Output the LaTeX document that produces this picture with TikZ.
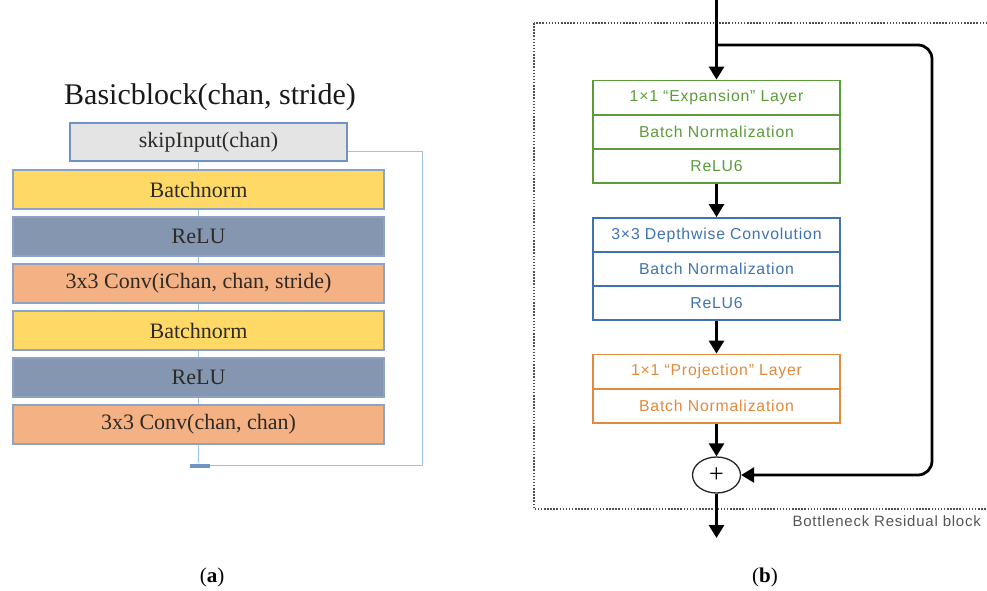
\documentclass[tikz,border=0pt]{standalone}
\usepackage{fontspec}
\setmainfont{Liberation Serif}
\newfontfamily\rsans[LetterSpace=5]{Liberation Sans}
\usetikzlibrary{arrows.meta,shapes.geometric}
\definecolor{lborder}{HTML}{8CA3C6}
\definecolor{lline}{HTML}{9DC3E6}
\definecolor{skipfill}{HTML}{E4E4E4}
\definecolor{skipborder}{HTML}{6F94C4}
\definecolor{bnfill}{HTML}{FED966}
\definecolor{relufill}{HTML}{8496B0}
\definecolor{convfill}{HTML}{F4B183}
\definecolor{ltext}{HTML}{2E2A26}
\definecolor{gcol}{HTML}{5B9B3A}
\definecolor{bcol}{HTML}{3E73B0}
\definecolor{ocol}{HTML}{E08A3C}
\definecolor{dotcol}{HTML}{505050}
\definecolor{captext}{HTML}{555555}
\tikzset{
  lbox/.style={draw=lborder, line width=1.2pt, minimum width=371pt, minimum height=39pt,
    inner sep=0pt, text=ltext, font=\fontsize{22}{26}\selectfont},
  lconn/.style={draw=lline, line width=0.8pt},
  rrow/.style={draw=#1, text=#1, line width=1.5pt, minimum width=247pt, minimum height=34.3pt,
    inner sep=0pt, font=\rsans\fontsize{15.8}{18}\selectfont},
  flow/.style={line width=2.8pt, -{Triangle[length=13pt,width=15pt]}},
}
\begin{document}
\begin{tikzpicture}[x=1pt,y=-1pt]
\useasboundingbox (0,0) rectangle (987,590);
\clip (0,0) rectangle (987,590);
% ---------- (a) ----------
\node[text=black!90, font=\fontsize{30}{34}\selectfont] (title) at (210,97) {Basicblock(chan, stride)};
\node[lbox, draw=skipborder, fill=skipfill, minimum width=277pt, minimum height=38pt] (skip) at (208.5,142) {skipInput(chan)};
\node[lbox, fill=bnfill] (bn1) at (198.5,189.5) {Batchnorm};
\node[lbox, fill=relufill] (relu1) at (198.5,236.5) {ReLU};
\node[lbox, fill=convfill] (conv1) at (198.5,283.5) {3x3 Conv(iChan, chan, stride)};
\node[lbox, fill=bnfill] (bn2) at (198.5,330.5) {Batchnorm};
\node[lbox, fill=relufill] (relu2) at (198.5,377.5) {ReLU};
\node[lbox, fill=convfill] (conv2) at (198.5,424.5) {3x3 Conv(chan, chan)};
\node[fill=skipborder, minimum width=20pt, minimum height=4pt, inner sep=0pt] (sum) at (200,465.5) {};
\coordinate (skipr) at (422,151);
\draw[lconn] (bn1.north) -- (bn1.north |- skip.south);
\draw[lconn] (bn1.south) -- (relu1.north);
\draw[lconn] (relu1.south) -- (conv1.north);
\draw[lconn] (conv1.south) -- (bn2.north);
\draw[lconn] (bn2.south) -- (relu2.north);
\draw[lconn] (relu2.south) -- (conv2.north);
\draw[lconn] (conv2.south) -- (conv2.south |- sum.north);
\draw[lconn] (skip.east |- skipr) -- (skipr) |- (sum.east);
\node[font=\fontsize{21}{24}\selectfont] (capa) at (212,577) {(\textbf{a})};
% ---------- (b) ----------
\draw[dotcol, line width=1.5pt, dash pattern=on 1.5pt off 1.6pt] (534,23) rectangle (1000,509);
\node[rrow=gcol] (g1) at (716.5,97.5) {1×1 “Expansion” Layer};
\node[rrow=gcol] (g2) at (716.5,132) {Batch Normalization};
\node[rrow=gcol] (g3) at (716.5,166) {ReLU6};
\node[rrow=bcol] (b1) at (716.5,235) {3×3 Depthwise Convolution};
\node[rrow=bcol] (b2) at (716.5,269) {Batch Normalization};
\node[rrow=bcol] (b3) at (716.5,303) {ReLU6};
\node[rrow=ocol] (o1) at (716.5,371.5) {1×1 “Projection” Layer};
\node[rrow=ocol] (o2) at (716.5,406) {Batch Normalization};
\node[draw=black!85, line width=1.3pt, ellipse, minimum width=48pt, minimum height=36pt, inner sep=0pt,
  font=\fontsize{26}{28}\selectfont] (plus) at (716.5,475) {+};
\coordinate (in) at (716.5,0);
\coordinate (split) at (716.5,45);
\coordinate (sr) at (932,45);
\coordinate (out) at (716.5,538);
\draw[flow] (in) -- (g1.north);
\draw[flow] (g3.south) -- (b1.north);
\draw[flow] (b3.south) -- (o1.north);
\draw[flow] (o2.south) -- (plus.north);
\draw[flow] (plus.south) -- (out);
\draw[flow, rounded corners=14pt] (split) -- (sr) |- (plus.east);
\node[anchor=west, text=captext, font=\rsans\fontsize{15}{18}\selectfont] (bname) at (789,521) {Bottleneck Residual block};
\node[font=\fontsize{21}{24}\selectfont] (capb) at (765,577) {(\textbf{b})};
\end{tikzpicture}
\end{document}
